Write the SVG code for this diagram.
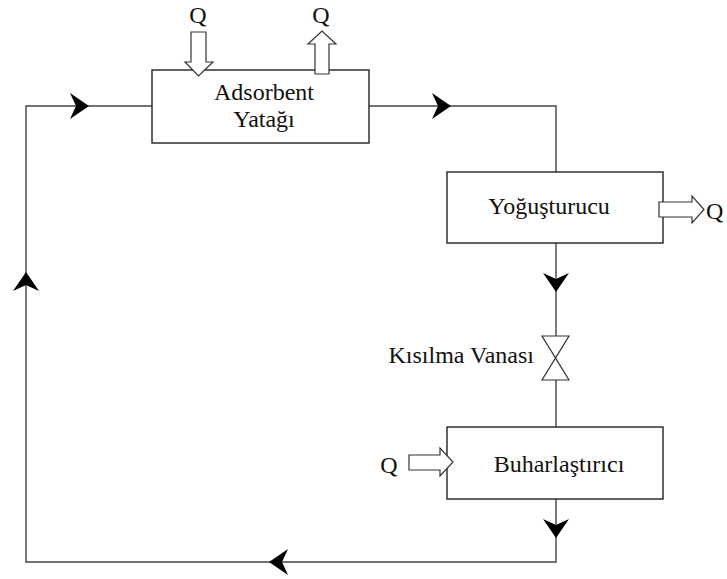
<svg xmlns="http://www.w3.org/2000/svg" xmlns:xlink="http://www.w3.org/1999/xlink" width="727" height="579" viewBox="0 0 727 579">
  <style>
    .box { fill: #fff; stroke: #222; stroke-width: 1.4; }
    .line { fill: none; stroke: #444; stroke-width: 1.4; }
    .heat { fill: #fff; stroke: #333; stroke-width: 1.2; }
    .lbl { font-family: "Liberation Serif", "Times New Roman", serif; font-size: 24px; fill: #111; }
    .head { fill: #000; }
  </style>
  <defs>
    <!-- flow arrowhead, tip at origin, pointing +x -->
    <path id="ah" class="head" d="M0,0 L-19,-13 L-13,0 L-19,13 Z"/>
  </defs>

  <!-- connectors -->
  <g id="connectors">
    <path class="line" d="M152,106 H26 V562 H556 V499"/>
    <path class="line" d="M369,106 H556 V172"/>
    <path class="line" d="M556,243 V336"/>
    <path class="line" d="M556,380 V427"/>
    <!-- flow direction marks -->
    <use xlink:href="#ah" transform="translate(89,106)"/>
    <use xlink:href="#ah" transform="translate(451,106)"/>
    <use xlink:href="#ah" transform="translate(556,292) rotate(90)"/>
    <use xlink:href="#ah" transform="translate(556,538) rotate(90)"/>
    <use xlink:href="#ah" transform="translate(269,562) rotate(180)"/>
    <use xlink:href="#ah" transform="translate(26,272) rotate(-90)"/>
  </g>

  <!-- adsorbent bed with heat in / heat out -->
  <g id="adsorbent">
    <rect class="box" x="152" y="70" width="217" height="73"/>
    <text class="lbl" x="264" y="100" text-anchor="middle">Adsorbent</text>
    <text class="lbl" x="264" y="127" text-anchor="middle">Yatağı</text>
  </g>
  <g id="adsorbent-heat-in">
    <path class="heat" d="M191,32 H206 V62 H213 L198.5,76 L185,62 H191 Z"/>
    <text class="lbl" x="198" y="23" text-anchor="middle">Q</text>
  </g>
  <g id="adsorbent-heat-out">
    <path class="heat" d="M315,74 V44 H308 L322,31 L336,44 H329 V74 Z"/>
    <text class="lbl" x="321" y="23" text-anchor="middle">Q</text>
  </g>

  <!-- condenser -->
  <g id="condenser">
    <rect class="box" x="447" y="172" width="216" height="71"/>
    <text class="lbl" x="549" y="214" text-anchor="middle">Yoğuşturucu</text>
  </g>
  <g id="condenser-heat-out">
    <path class="heat" d="M659,202 H692 V196 L704,209.5 L692,223 V217 H659 Z"/>
    <text class="lbl" x="706" y="219">Q</text>
  </g>

  <!-- throttling valve -->
  <g id="valve">
    <path class="heat" d="M542,336 H569 L542,380 H569 Z"/>
    <text class="lbl" x="534" y="363" text-anchor="end">Kısılma Vanası</text>
  </g>

  <!-- evaporator -->
  <g id="evaporator">
    <rect class="box" x="447" y="427" width="216" height="72"/>
    <text class="lbl" x="559" y="472" text-anchor="middle">Buharlaştırıcı</text>
  </g>
  <g id="evaporator-heat-in">
    <path class="heat" d="M409,455 H440 V448 L453,462 L440,476 V470 H409 Z"/>
    <text class="lbl" x="389" y="473" text-anchor="middle">Q</text>
  </g>
</svg>
